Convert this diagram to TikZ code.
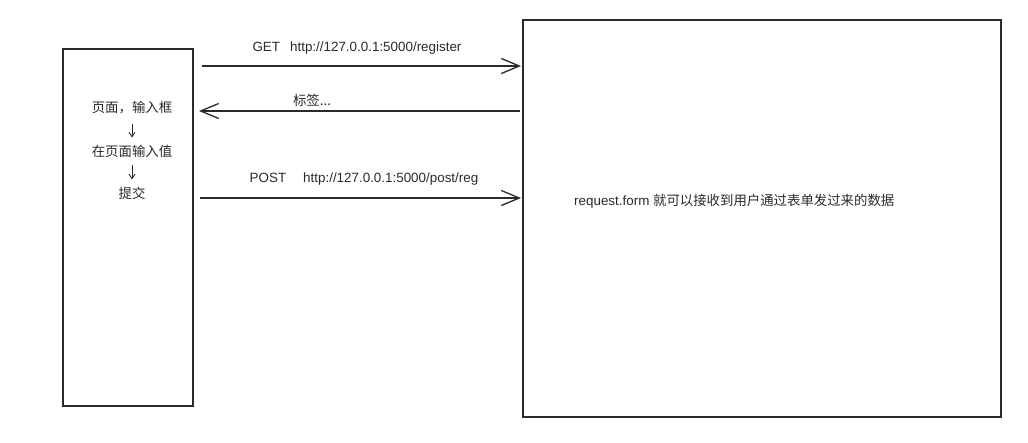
\documentclass[tikz,border=0pt]{standalone}
\usepackage{fontspec}
\setmainfont{Liberation Sans}
\newfontfamily\cjk{Noto Sans CJK SC}
\usetikzlibrary{arrows.meta}
\definecolor{ink}{HTML}{2A2A2A}
\begin{document}
\begin{tikzpicture}[x=1pt,y=-1pt,
  box/.style={draw=ink,line width=1.4pt},
  msg/.style={draw=ink,line width=1.3pt,-{Straight Barb[length=18pt,width=15pt,line width=1.3pt]}},
  small/.style={draw=ink,line width=0.9pt,-{Straight Barb[length=4.5pt,width=6pt]}},
  lbl/.style={font=\fontsize{13.4}{15}\selectfont,text=ink,inner sep=0pt},
]
\useasboundingbox (0,0) rectangle (1028,442);
\draw[box] (63,49) rectangle (193,406);
\draw[box] (523,20) rectangle (1001,417);
\node[lbl] (t1) at (132,108) {\cjk 页面，输入框};
\node[lbl] (t2) at (132,151) {\cjk 在页面输入值};
\node[lbl] (t3) at (132,193) {\cjk 提交};
\draw[small] (t1.south) ++(0,9) coordinate (a1) -- ++(0,14) coordinate (a1e);
\draw[small] (t2.south) ++(0,8) coordinate (a2) -- ++(0,14) coordinate (a2e);
\coordinate (g1) at (202,66);
\coordinate (g2) at (521,66);
\draw[msg] (g1) -- (g2);
\node[lbl] (gl) at (357,48) {GET\hspace{10pt}http://127.0.0.1:5000/register};
\coordinate (r1) at (520,111);
\coordinate (r2) at (199,111);
\draw[msg] (r1) -- (r2);
\node[lbl] (rl) at (312,100) {\cjk 标签...};
\coordinate (p1) at (200,198);
\coordinate (p2) at (521,198);
\draw[msg] (p1) -- (p2);
\node[lbl] (pl) at (364,179) {POST\hspace{17pt}http://127.0.0.1:5000/post/reg};
\node[lbl,anchor=west] (rt) at (574,201) {request.form {\cjk 就可以接收到用户通过表单发过来的数据}};
\end{tikzpicture}
\end{document}
